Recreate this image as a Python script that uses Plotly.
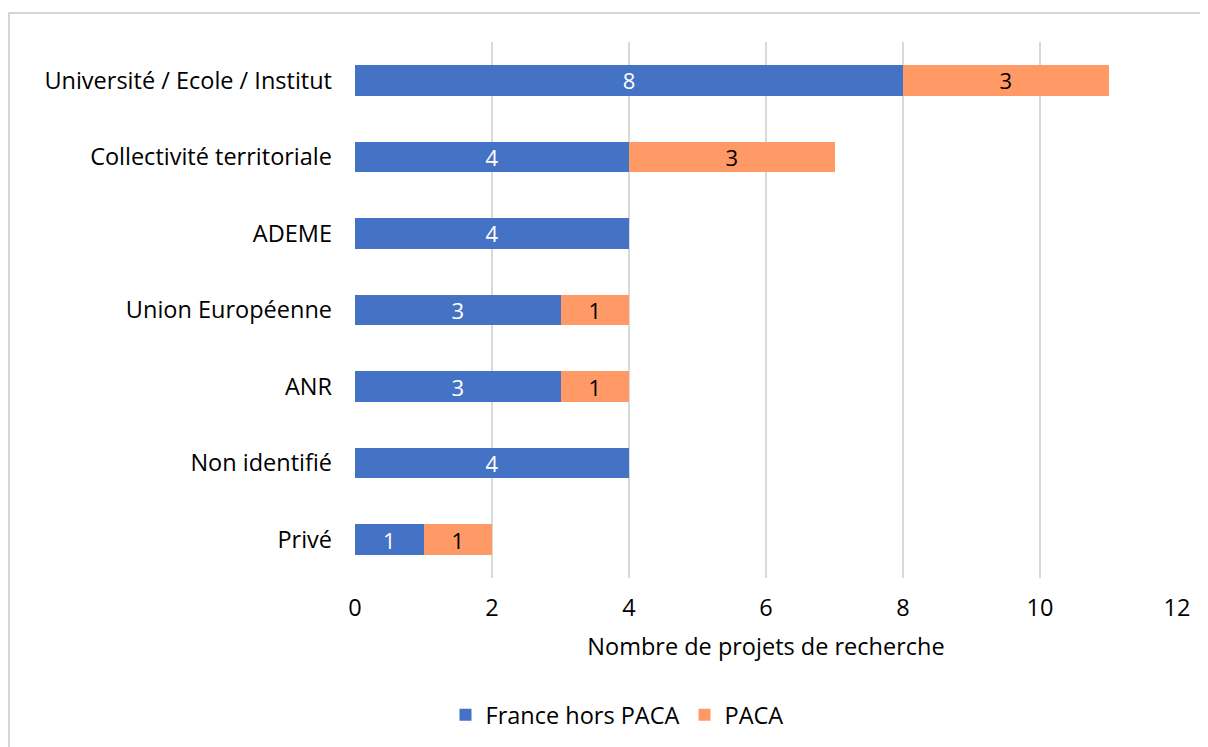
import plotly.graph_objects as go

categories = ["Université / Ecole / Institut", "Collectivité territoriale", "ADEME",
              "Union Européenne", "ANR", "Non identifié", "Privé"]
france_hors_paca = [8, 4, 4, 3, 3, 4, 1]
paca = [3, 3, 0, 1, 1, 0, 1]
x_ticks = [0, 2, 4, 6, 8, 10, 12]

FONT = "Open Sans, Lato, sans-serif"
FS = 23.5
OFF = 8  # page body margin
W, H = 1208, 747
# target screen coordinates of plot area
SX0, SX1, SY0, SY1 = 355, 1177, 42, 578
L = SX0 - OFF
T = SY0 - OFF
R = W - (SX1 - OFF)
B = H - (SY1 - OFF)
pw, ph = SX1 - SX0, SY1 - SY0

cats = categories[::-1]
fr = france_hors_paca[::-1]
pa = paca[::-1]

fig = go.Figure()
fig.add_trace(go.Bar(
    y=cats, x=fr, orientation="h", name="France hors PACA",
    marker=dict(color="#4472C4", line=dict(width=0)),
    text=[str(v) if v else "" for v in fr], textposition="inside",
    insidetextanchor="middle", textangle=0, constraintext="none",
    textfont=dict(color="white", size=22, family=FONT),
))
fig.add_trace(go.Bar(
    y=cats, x=pa, orientation="h", name="PACA",
    marker=dict(color="#FF9966", line=dict(width=0)),
    text=[str(v) if v else "" for v in pa], textposition="inside",
    insidetextanchor="middle", textangle=0, constraintext="none",
    textfont=dict(color="black", size=22, family=FONT),
))

def px_x(x):
    return (x - SX0) / pw

def px_y(y):
    return (SY1 - y) / ph

fig.update_layout(
    width=W, height=H,
    barmode="stack", bargap=0.6,
    margin=dict(l=L, r=R, t=T, b=B),
    paper_bgcolor="white", plot_bgcolor="white",
    font=dict(family=FONT, size=FS, color="#000000"),
    xaxis=dict(
        range=[0, 12], tickvals=x_ticks, showgrid=True, gridcolor="#D9D9D9",
        gridwidth=1.5, zeroline=False, showline=False, ticks="",
        tickfont=dict(size=FS), fixedrange=True, ticklabelstandoff=13,
        title=dict(text="Nombre de projets de recherche", font=dict(size=FS), standoff=17),
    ),
    yaxis=dict(
        showgrid=False, zeroline=False, showline=False, ticks="",
        tickfont=dict(size=FS), ticklabelstandoff=22,
    ),
    legend=dict(
        orientation="h", x=px_x(617), xanchor="center", y=px_y(715), yanchor="middle",
        font=dict(size=FS), traceorder="normal", itemwidth=30,
    ),
    showlegend=True,
)

fig.add_shape(
    type="rect", xref="paper", yref="paper",
    x0=px_x(9), x1=px_x(1260), y0=px_y(800), y1=px_y(13),
    line=dict(color="#C8C8C8", width=1.5), fillcolor="rgba(0,0,0,0)", layer="below",
)

fig.write_html("out.html")
